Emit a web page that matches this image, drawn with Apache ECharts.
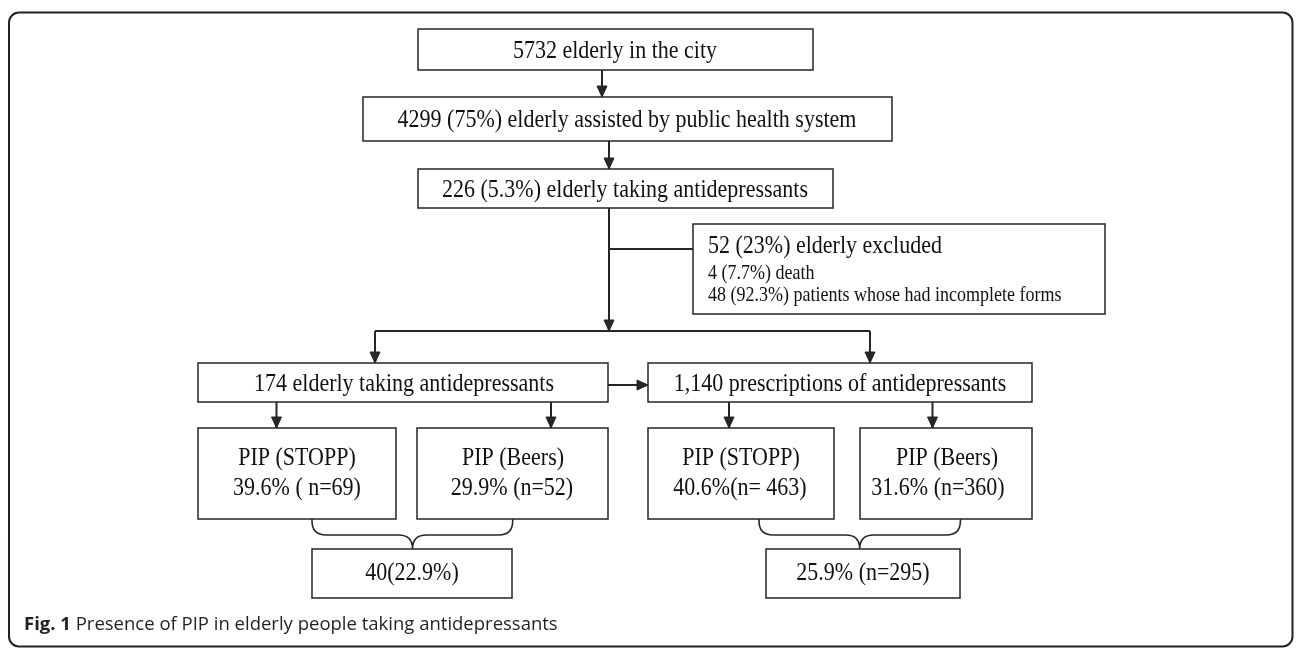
<!DOCTYPE html>
<html>
<head>
<meta charset="utf-8">
<script src="https://cdn.jsdelivr.net/npm/echarts@6/dist/echarts.min.js"></script>
<style>
  html, body { margin: 0; padding: 0; background: #fff; }
  #chart { width: 1296px; height: 649px; }
</style>
</head>
<body>
<div id="chart"></div>
<script>
// Flowchart content (text of each box)
const boxTexts = [
    ['5732 elderly in the city'],
    ['4299 (75%) elderly assisted by public health system'],
    ['226 (5.3%) elderly taking antidepressants'],
    ['52 (23%) elderly excluded', '4 (7.7%) death', '48 (92.3%) patients whose had incomplete forms'],
    ['174 elderly taking antidepressants'],
    ['1,140 prescriptions of antidepressants'],
    ['PIP (STOPP)', '39.6% ( n=69)'],
    ['PIP (Beers)', '29.9% (n=52)'],
    ['PIP (STOPP)', '40.6%(n= 463)'],
    ['PIP (Beers)', '31.6% (n=360)'],
    ['40(22.9%)'],
    ['25.9% (n=295)']
];
const captionBold = 'Fig. 1';
const captionText = 'Presence of PIP in elderly people taking antidepressants';

// Layout in canvas units (x0, y0, x1, y1)
const boxRects = [
    [418, 29, 813, 70],
    [363, 97, 892, 141],
    [418, 169, 833, 208],
    [693, 224, 1105, 314],
    [198, 363, 608, 402],
    [648, 363, 1032, 402],
    [198, 428, 396, 519],
    [417, 428, 608, 519],
    [648, 428, 834, 519],
    [860, 428, 1032, 519],
    [312, 549, 512, 598],
    [766, 549, 960, 598]
];
// line centres per box: [x, y, align, fontSize]
const boxRows = [
    [[615, 51.5, 'center', 22]],
    [[627, 120.5, 'center', 22]],
    [[625, 190.5, 'center', 22]],
    [[708, 247, 'left', 22], [708, 274, 'left', 18], [708, 296, 'left', 18]],
    [[404, 384.5, 'center', 22]],
    [[840, 384.5, 'center', 22]],
    [[297, 459, 'center', 22], [297, 489, 'center', 22]],
    [[513, 459, 'center', 22], [512, 489, 'center', 22]],
    [[741, 459, 'center', 22], [740, 489, 'center', 22]],
    [[947, 459, 'center', 22], [938, 489, 'center', 22]],
    [[412, 574, 'center', 22]],
    [[863, 574, 'center', 22]]
];
// connectors: points, arrow at end?
const links = [
    [[[602, 70], [602, 97]], true],
    [[[609, 141], [609, 169]], true],
    [[[609, 208], [609, 331]], true],
    [[[609, 249], [693, 249]], false],
    [[[375, 331], [870, 331]], false],
    [[[375, 331], [375, 363]], true],
    [[[870, 331], [870, 363]], true],
    [[[608, 385], [648, 385]], true],
    [[[276.5, 402], [276.5, 428]], true],
    [[[551, 402], [551, 428]], true],
    [[[729, 402], [729, 428]], true],
    [[[932.5, 402], [932.5, 428]], true]
];
// curly braces joining two boxes into one: [xLeft, xRight, xTip, yTop, yMid, yTip]
const braces = [
    [312, 512.7, 412.5, 519, 535, 549],
    [759, 960.4, 859.7, 519, 535, 549]
];

const LINE = '#262626';
const FONT = '"Liberation Serif", "Times New Roman", serif';
const TEXT_STRETCH = 1.12; // glyphs in the figure are a little taller than wide

const chart = echarts.init(document.getElementById('chart'));

const renderBox = (params, api) => {
    const i = params.dataIndex;
    const r = boxRects[i];
    const p0 = api.coord([r[0], r[1]]);
    const p1 = api.coord([r[2], r[3]]);
    const children = [{
        type: 'rect',
        shape: { x: p0[0], y: p0[1], width: p1[0] - p0[0], height: p1[1] - p0[1] },
        style: { fill: '#fff', stroke: LINE, lineWidth: 1.5 }
    }];
    boxTexts[i].forEach((t, j) => {
        const row = boxRows[i][j];
        const p = api.coord([row[0], row[1]]);
        children.push({
            type: 'text',
            x: p[0], y: p[1],
            scaleY: TEXT_STRETCH,
            style: {
                text: t, fill: '#111', font: row[3] + 'px ' + FONT,
                align: row[2], verticalAlign: 'middle'
            }
        });
    });
    return { type: 'group', children };
};

const renderLink = (params, api) => {
    const [pts, arrow] = links[params.dataIndex];
    const px = pts.map(p => api.coord(p));
    const children = [{
        type: 'polyline',
        shape: { points: px },
        style: { stroke: LINE, lineWidth: 2, fill: null }
    }];
    if (arrow) {
        const a = px[px.length - 2], b = px[px.length - 1];
        const dx = b[0] - a[0], dy = b[1] - a[1];
        const len = Math.sqrt(dx * dx + dy * dy);
        const ux = dx / len, uy = dy / len;
        const L = 11, W = 5;
        const bx = b[0] - ux * L, by = b[1] - uy * L;
        children.push({
            type: 'polygon',
            shape: { points: [b, [bx - uy * W, by + ux * W], [bx + uy * W, by - ux * W]] },
            style: { fill: LINE, stroke: LINE, lineWidth: 1 }
        });
    }
    return { type: 'group', children };
};

const renderBrace = (params, api) => {
    const [xl, xr, xc, yt, ym, yb] = braces[params.dataIndex];
    const c = (x, y) => api.coord([x, y]).map(v => v.toFixed(1)).join(' ');
    const rr = 14;
    const d = 'M' + c(xl, yt) + ' L' + c(xl, ym - rr) + ' Q' + c(xl, ym) + ' ' + c(xl + rr, ym) +
        ' L' + c(xc - rr, ym) + ' Q' + c(xc, ym) + ' ' + c(xc, yb) +
        ' Q' + c(xc, ym) + ' ' + c(xc + rr, ym) +
        ' L' + c(xr - rr, ym) + ' Q' + c(xr, ym) + ' ' + c(xr, ym - rr) + ' L' + c(xr, yt);
    return {
        type: 'path',
        shape: { pathData: d },
        style: { stroke: LINE, lineWidth: 1.6, fill: null }
    };
};

chart.setOption({
    animation: false,
    backgroundColor: '#fff',
    grid: { left: 0, right: 0, top: 0, bottom: 0 },
    xAxis: { type: 'value', min: 0, max: 1296, show: false },
    yAxis: { type: 'value', min: 0, max: 649, inverse: true, show: false },
    title: {
        text: '{b|' + captionBold + '} ' + captionText,
        left: 24, top: 615, padding: 0,
        textStyle: {
            fontFamily: '"Open Sans", sans-serif', fontSize: 18.5, fontWeight: 'normal', color: '#231f20',
            rich: { b: { fontFamily: '"Open Sans", sans-serif', fontSize: 18.5, fontWeight: 'bold', color: '#231f20' } }
        }
    },
    graphic: [{
        type: 'rect',
        shape: { x: 9, y: 12.5, width: 1283.5, height: 634, r: 10 },
        style: { fill: null, stroke: '#222', lineWidth: 2 },
        silent: true
    }],
    series: [
        { type: 'custom', coordinateSystem: 'cartesian2d', renderItem: renderLink, data: links.map((l, i) => [i]), z: 1, silent: true },
        { type: 'custom', coordinateSystem: 'cartesian2d', renderItem: renderBrace, data: braces.map((b, i) => [i]), z: 1, silent: true },
        { type: 'custom', coordinateSystem: 'cartesian2d', renderItem: renderBox, data: boxTexts.map((t, i) => [i]), z: 2, silent: true }
    ]
});
</script>
</body>
</html>
